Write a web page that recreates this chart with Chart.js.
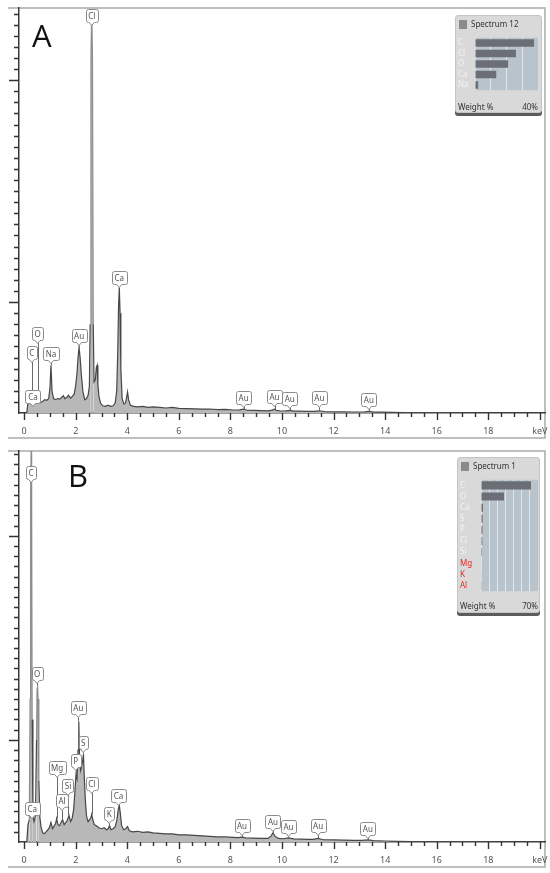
<!DOCTYPE html>
<html>
<head>
<meta charset="utf-8">
<title>EDS spectra</title>
<script src="https://cdn.jsdelivr.net/npm/chart.js@4.4.1/dist/chart.umd.min.js"></script>
<style>
  body { margin: 0; background: #fff; font-family: "Noto Sans", "DejaVu Sans", sans-serif; }
  .panel { position: absolute; left: 0; width: 550px; }
  #panelA { top: 0; height: 445px; }
  #panelB { top: 445px; height: 428px; }
  .panel > canvas { position: absolute; left: 0; top: 0; }
  .inset { position: absolute; background: #d9d9d9; border: 1px solid #c4c4c4; border-radius: 3px; box-shadow: 0 3px 0 #5c5c5c; }
  .inset .hdr { position: absolute; left: 3px; top: 3px; font-size: 8px; line-height: 10px; color: #333; white-space: nowrap; }
  .inset .sq { display: inline-block; width: 8px; height: 9px; background: #8a8a8a; margin-right: 4px; vertical-align: -2px; }
  .inset canvas { position: absolute; left: 2px; top: 15px; }
  .inset .ftr { position: absolute; left: 2px; display: flex; justify-content: space-between; font-size: 8px; line-height: 10px; color: #333; }
</style>
</head>
<body>
<div class="panel" id="panelA">
  <canvas id="chartA" width="550" height="445"></canvas>
  <div class="inset" style="left:455px; top:15px; width:85px; height:96px;">
    <div class="hdr"><span class="sq"></span>Spectrum 12</div>
    <canvas id="barsA" width="80" height="66"></canvas>
    <div class="ftr" style="top:86px; width:80px;"><span>Weight %</span><span>40%</span></div>
  </div>
</div>
<div class="panel" id="panelB">
  <canvas id="chartB" width="550" height="428"></canvas>
  <div class="inset" style="left:457px; top:12px; width:81px; height:154px;">
    <div class="hdr"><span class="sq"></span>Spectrum 1</div>
    <canvas id="barsB" width="78" height="125"></canvas>
    <div class="ftr" style="top:143px; width:78px;"><span>Weight %</span><span>70%</span></div>
  </div>
</div>

<script>
// ---- panel A spectrum (keV / counts, counts in y-axis tick units) ----
const energyA = [
  0.10, 0.15, 0.22, 0.28, 0.33, 0.40, 0.46, 0.52, 0.58, 0.65,
  0.72, 0.80, 0.88, 0.95, 1.00, 1.04, 1.08, 1.14, 1.22, 1.30,
  1.38, 1.45, 1.52, 1.58, 1.65, 1.72, 1.80, 1.87, 1.94, 2.00,
  2.05, 2.09, 2.13, 2.17, 2.22, 2.28, 2.35, 2.42, 2.48, 2.53,
  2.56, 2.59, 2.62, 2.65, 2.68, 2.71, 2.76, 2.80, 2.83, 2.86,
  2.90, 2.96, 3.05, 3.15, 3.25, 3.35, 3.45, 3.53, 3.59, 3.63,
  3.66, 3.69, 3.72, 3.75, 3.80, 3.87, 3.93, 3.98, 4.01, 4.05,
  4.12, 4.25, 4.40, 4.60, 4.80, 5.00, 5.25, 5.50, 5.75, 6.00,
  6.30, 6.60, 6.90, 7.20, 7.50, 7.80, 8.10, 8.35, 8.50, 8.65,
  8.90, 9.20, 9.45, 9.62, 9.70, 9.78, 9.95, 10.15, 10.30, 10.45,
  10.70, 11.00, 11.25, 11.45, 11.65, 12.00, 12.40, 12.80, 13.20, 13.37,
  13.55, 13.90, 14.30, 14.80, 15.30, 16.00, 17.00, 18.00, 19.00, 20.00
];
const countsA = [
  0, 1.0, 1.2, 1.5, 1.2, 1.0, 1.1, 1.4, 0.9, 0.95,
  1.05, 1.2, 1.15, 1.3, 2.2, 4.3, 2.0, 1.3, 1.2, 1.3,
  1.25, 1.4, 1.55, 1.3, 1.4, 1.6, 1.35, 1.5, 1.7, 2.5,
  3.6, 5.0, 5.9, 5.0, 3.4, 1.9, 1.2, 1.3, 1.6, 2.4,
  8.0, 32.0, 36.3, 32.0, 8.0, 2.8, 3.0, 4.1, 4.3, 2.6,
  1.5, 0.9, 0.65, 0.6, 0.7, 0.6, 0.65, 0.9, 2.0, 5.5,
  9.5, 11.3, 9.0, 4.0, 1.3, 0.8, 0.9, 1.5, 1.9, 1.2,
  0.7, 0.6, 0.55, 0.6, 0.5, 0.55, 0.5, 0.45, 0.5, 0.42,
  0.4, 0.38, 0.35, 0.36, 0.3, 0.32, 0.27, 0.28, 0.34, 0.25,
  0.24, 0.22, 0.2, 0.26, 0.34, 0.24, 0.18, 0.2, 0.24, 0.17,
  0.16, 0.15, 0.14, 0.2, 0.12, 0.1, 0.1, 0.09, 0.1, 0.15,
  0.08, 0.07, 0.05, 0.04, 0.03, 0.02, 0.01, 0, 0, 0
];
const yMaxA = 36.5;
// peak tags: element, keV, tag tip height, peak height
const tagsA = [
  ['Cl', 2.62, 35.0, 35.0],
  ['Ca', 3.69, 11.4, 11.3],
  ['Au', 2.13, 6.1, 5.9],
  ['Na', 1.04, 4.5, 4.3],
  ['O', 0.52, 6.3, 1.4],
  ['C', 0.30, 4.6, 1.5],
  ['Ca', 0.34, 0.63, 0.63],
  ['Au', 8.51, 0.54, 0.3],
  ['Au', 9.71, 0.63, 0.34],
  ['Au', 10.30, 0.45, 0.24],
  ['Au', 11.45, 0.54, 0.2],
  ['Au', 13.37, 0.36, 0.15]
];
const elementsA = ['C', 'Cl', 'O', 'Ca', 'Na'];
const weightA = [37.5, 26, 21, 13.5, 2];

// ---- panel B spectrum ----
const energyB = [
  0.10, 0.15, 0.20, 0.23, 0.25, 0.27, 0.29, 0.31, 0.34, 0.38,
  0.44, 0.48, 0.50, 0.52, 0.54, 0.57, 0.61, 0.66, 0.72, 0.78,
  0.85, 0.92, 0.98, 1.04, 1.10, 1.17, 1.22, 1.26, 1.31, 1.37,
  1.43, 1.49, 1.55, 1.61, 1.67, 1.74, 1.80, 1.86, 1.92, 1.97,
  2.01, 2.05, 2.09, 2.12, 2.15, 2.19, 2.23, 2.27, 2.30, 2.33,
  2.37, 2.42, 2.48, 2.54, 2.59, 2.62, 2.66, 2.72, 2.80, 2.90,
  3.00, 3.10, 3.20, 3.26, 3.31, 3.37, 3.45, 3.53, 3.60, 3.65,
  3.69, 3.73, 3.78, 3.86, 3.94, 4.01, 4.08, 4.20, 4.40, 4.60,
  4.80, 5.00, 5.25, 5.50, 5.75, 6.00, 6.30, 6.60, 6.90, 7.20,
  7.50, 7.80, 8.10, 8.30, 8.45, 8.60, 8.90, 9.20, 9.45, 9.58,
  9.65, 9.72, 9.85, 10.05, 10.25, 10.45, 10.70, 11.00, 11.20, 11.40,
  11.60, 12.00, 12.40, 12.80, 13.10, 13.33, 13.55, 14.00, 14.50, 15.00,
  16.00, 17.00, 18.00, 19.00, 20.00
];
const countsB = [
  0, 1.7, 2.2, 14, 34, 38.3, 34, 12, 2.4, 2.0,
  2.6, 10.0, 15.0, 15.3, 14, 6.0, 2.4, 1.4, 0.9, 0.8,
  1.0, 1.2, 1.4, 1.9, 1.3, 1.6, 1.8, 2.3, 1.7, 1.6,
  1.9, 2.2, 1.7, 1.9, 2.1, 2.6, 2.0, 2.3, 3.2, 5.0,
  6.6, 6.2, 9.0, 11.8, 8.0, 7.0, 7.4, 8.0, 8.6, 6.5,
  4.2, 2.5, 2.0, 2.2, 2.4, 2.7, 2.2, 1.7, 1.6, 1.4,
  1.3, 1.4, 1.2, 1.3, 1.6, 1.2, 1.3, 1.5, 2.2, 3.2,
  3.6, 2.8, 1.6, 1.2, 1.3, 1.5, 1.1, 1.0, 1.05, 0.95,
  1.0, 0.9, 0.85, 0.8, 0.8, 0.7, 0.7, 0.65, 0.6, 0.55,
  0.5, 0.5, 0.45, 0.42, 0.48, 0.4, 0.38, 0.35, 0.35, 0.6,
  0.9, 0.6, 0.35, 0.32, 0.4, 0.3, 0.28, 0.25, 0.25, 0.35,
  0.22, 0.2, 0.18, 0.15, 0.15, 0.2, 0.13, 0.1, 0.07, 0.05,
  0.03, 0.02, 0.01, 0, 0
];
const yMaxB = 38.3;
const tagsB = [
  ['C', 0.27, 35.3, 35.3],
  ['O', 0.50, 15.6, 15.3],
  ['Ca', 0.31, 2.35, 2.35],
  ['Mg', 1.28, 6.4, 2.3],
  ['Al', 1.47, 3.1, 2.2],
  ['Si', 1.70, 4.6, 2.6],
  ['P', 2.00, 7.1, 6.6],
  ['Au', 2.10, 12.2, 11.8],
  ['S', 2.29, 8.8, 8.6],
  ['Cl', 2.62, 4.8, 2.7],
  ['K', 3.30, 1.9, 1.6],
  ['Ca', 3.66, 3.6, 3.6],
  ['Au', 8.45, 0.7, 0.48],
  ['Au', 9.65, 1.1, 0.9],
  ['Au', 10.25, 0.6, 0.4],
  ['Au', 11.40, 0.7, 0.35],
  ['Au', 13.33, 0.4, 0.2]
];
const elementsB = ['C', 'O', 'Ca', 'S', 'P', 'Cl', 'Si', 'Mg', 'K', 'Al'];
const weightB = [61.4, 28.2, 2.5, 2, 1.8, 1.5, 1.2, 0.6, 0.5, 0.3];

Chart.defaults.font.family = '"Noto Sans", "DejaVu Sans", sans-serif';

// draw a boxed peak tag with a small pointer at the bottom
function drawTag(ctx, text, px, tipY) {
  ctx.font = '8px "Noto Sans", sans-serif';
  const w = Math.round(ctx.measureText(text).width) + 5, h = 13;
  const x0 = Math.round(px - w / 2) + 0.5, x1 = x0 + w;
  const bottom = Math.round(tipY - 3) + 0.5, top = bottom - h;
  ctx.beginPath();
  ctx.moveTo(x0 + 2, top);
  ctx.lineTo(x1 - 2, top);
  ctx.quadraticCurveTo(x1, top, x1, top + 2);
  ctx.lineTo(x1, bottom - 2);
  ctx.quadraticCurveTo(x1, bottom, x1 - 2, bottom);
  ctx.lineTo(px + 2.5, bottom);
  ctx.lineTo(px, bottom + 3);
  ctx.lineTo(px - 2.5, bottom);
  ctx.lineTo(x0 + 2, bottom);
  ctx.quadraticCurveTo(x0, bottom, x0, bottom - 2);
  ctx.lineTo(x0, top + 2);
  ctx.quadraticCurveTo(x0, top, x0 + 2, top);
  ctx.closePath();
  ctx.fillStyle = '#fff';
  ctx.fill();
  ctx.strokeStyle = '#8a8a8a';
  ctx.lineWidth = 1;
  ctx.stroke();
  ctx.fillStyle = '#555';
  ctx.textAlign = 'center';
  ctx.textBaseline = 'middle';
  ctx.fillText(text, px, top + h / 2 + 0.5);
}

const spectrumDecor = {
  id: 'spectrumDecor',
  beforeDraw(chart) {
    const { ctx, chartArea: a } = chart;
    ctx.save();
    ctx.strokeStyle = '#ababab';
    ctx.lineWidth = 1.5;
    ctx.beginPath();
    ctx.moveTo(8, a.top);
    ctx.lineTo(a.right, a.top);
    ctx.lineTo(a.right, a.bottom + 25);
    ctx.lineTo(8, a.bottom + 25);
    ctx.stroke();
    ctx.restore();
  },
  afterDatasetsDraw(chart, args, opts) {
    const { ctx, scales: { x, y }, chartArea: a } = chart;
    ctx.save();
    // leader lines from tag to peak
    ctx.strokeStyle = '#6a6a6a';
    ctx.lineWidth = 1;
    ctx.beginPath();
    opts.tags.forEach(([, e, tip, peak]) => {
      if (tip <= peak) return;
      const px = Math.round(x.getPixelForValue(e)) + 0.5;
      ctx.moveTo(px, y.getPixelForValue(tip));
      ctx.lineTo(px, y.getPixelForValue(peak));
    });
    ctx.stroke();
    opts.tags.forEach(([t, e, tip]) => drawTag(ctx, t, x.getPixelForValue(e), y.getPixelForValue(tip)));
    // panel letter
    ctx.fillStyle = '#111';
    ctx.font = '31px "Open Sans", sans-serif';
    ctx.textAlign = 'left';
    ctx.textBaseline = 'alphabetic';
    ctx.fillText(opts.letter, a.left + opts.letterDx, a.top + opts.letterDy);
    ctx.restore();
  },
  afterDraw(chart) {
    const { ctx, scales: { x, y } } = chart;
    ctx.save();
    ctx.strokeStyle = '#333';
    ctx.lineWidth = 1.4;
    ctx.beginPath();
    for (let v = 0; v <= 20; v += 0.5) {
      const px = Math.round(x.getPixelForValue(v)) + 0.5;
      ctx.moveTo(px, y.bottom);
      ctx.lineTo(px, y.bottom + (v % 2 === 0 ? 7 : 4));
    }
    for (let v = 1; v <= y.max; v++) {
      const py = Math.round(y.getPixelForValue(v)) + 0.5;
      ctx.moveTo(x.left, py);
      ctx.lineTo(x.left - (v % 20 === 10 ? 10 : 5), py);
    }
    ctx.stroke();
    ctx.restore();
  }
};

function spectrumChart(id, energy, counts, yMax, tags, letter, letterDx, letterDy, padTop, padBottom, tallAt) {
  return new Chart(document.getElementById(id), {
    type: 'line',
    data: {
      datasets: [{
        data: energy.map((e, i) => ({ x: e, y: counts[i] })),
        borderColor: '#474747',
        borderWidth: 1.2,
        backgroundColor: '#b8b8b8',
        fill: 'origin',
        pointRadius: 0,
        tension: 0,
        segment: {
          borderColor: s => Math.max(s.p0.parsed.y, s.p1.parsed.y) > tallAt ? '#8d8d8d' : '#474747'
        }
      }]
    },
    options: {
      responsive: false,
      animation: false,
      devicePixelRatio: 1,
      layout: { padding: { left: 8, top: padTop, right: 5, bottom: padBottom } },
      plugins: {
        legend: { display: false },
        tooltip: { enabled: false },
        spectrumDecor: { tags, letter, letterDx, letterDy }
      },
      scales: {
        x: {
          type: 'linear', min: -0.2, max: 20.2, z: 1,
          ticks: {
            stepSize: 2, includeBounds: false, autoSkip: false, maxRotation: 0,
            padding: 13, color: '#555', font: { size: 9 },
            callback: v => v === 20 ? 'keV' : (v >= 0 ? String(v) : '')
          },
          grid: { display: false, drawTicks: false },
          border: { display: true, color: '#3a3a3a', width: 1.5 },
          afterFit: s => { s.height = 25; s.paddingLeft = 0; s.paddingRight = 0; }
        },
        y: {
          min: 0, max: yMax, z: 1,
          ticks: { display: false },
          grid: { display: false, drawTicks: false },
          border: { display: true, color: '#3a3a3a', width: 1.5 },
          afterFit: s => { s.width = 11; s.paddingTop = 0; s.paddingBottom = 0; }
        }
      }
    },
    plugins: [spectrumDecor]
  });
}

const plotBg = {
  id: 'plotBg',
  beforeDraw(chart) {
    const { ctx, chartArea: a } = chart;
    ctx.save();
    ctx.fillStyle = '#b8c3cc';
    ctx.fillRect(a.left, a.top, a.width, a.height);
    ctx.restore();
  }
};

function weightChart(id, elems, values, max, labelWidth, redFrom) {
  return new Chart(document.getElementById(id), {
    type: 'bar',
    data: {
      labels: elems,
      datasets: [{ data: values, backgroundColor: '#6b6e74', barPercentage: 0.72, categoryPercentage: 1 }]
    },
    options: {
      indexAxis: 'y',
      responsive: false,
      animation: false,
      devicePixelRatio: 1,
      layout: { padding: 0 },
      plugins: { legend: { display: false }, tooltip: { enabled: false } },
      scales: {
        x: {
          min: 0, max,
          ticks: { display: false, stepSize: 10 },
          grid: { color: 'rgba(255,255,255,0.6)', drawTicks: false },
          border: { display: false },
          afterFit: s => { s.height = 0; }
        },
        y: {
          ticks: {
            crossAlign: 'far', padding: 2, autoSkip: false, font: { size: 8 },
            color: c => c.index >= redFrom ? '#e32b24' : '#f3f3f3'
          },
          grid: { display: false },
          border: { display: false },
          afterFit: s => { s.width = labelWidth; }
        }
      }
    },
    plugins: [plotBg]
  });
}

spectrumChart('chartA', energyA, countsA, yMaxA, tagsA, 'A', 13, 39, 8, 7, 15);
spectrumChart('chartB', energyB, countsB, yMaxB, tagsB, 'B', 49, 36, 6, 6, 13);
weightChart('barsA', elementsA, weightA, 40, 17, 99);
weightChart('barsB', elementsB, weightB, 70, 21, 7);
</script>
</body>
</html>
